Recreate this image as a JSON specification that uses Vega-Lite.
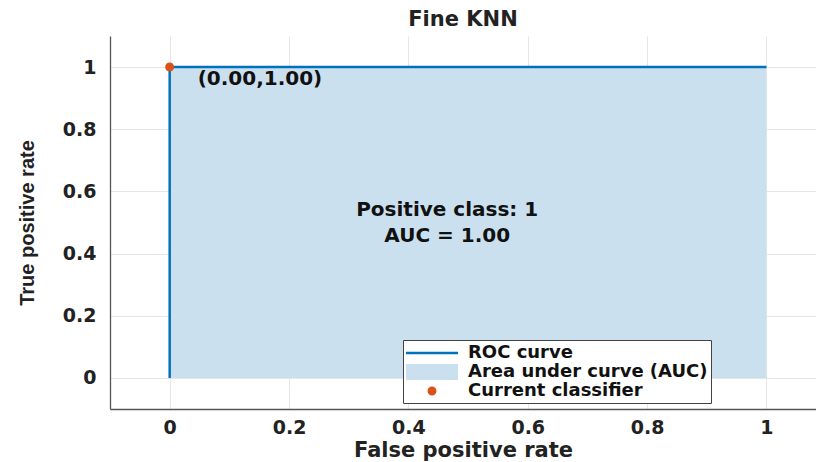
{
  "$schema": "https://vega.github.io/schema/vega-lite/v6.json",
  "autosize": {"type": "none"},
  "padding": {"left": 110, "top": 36, "right": 0, "bottom": 53},
  "width": 706,
  "height": 373,
  "background": "white",
  "title": {"text": "Fine KNN", "font": "DejaVu Sans", "fontSize": 21, "fontWeight": "bold", "color": "#222222", "anchor": "middle", "frame": "group", "offset": 6},
  "config": {"view": {"stroke": null}},
  "datasets": {
    "roc": [
      {"fpr": 0, "tpr": 0, "order": 1},
      {"fpr": 0, "tpr": 1, "order": 2},
      {"fpr": 1, "tpr": 1, "order": 3}
    ],
    "op": [
      {"fpr": 0, "tpr": 1, "series": "Current classifier", "label": "(0.00,1.00)"}
    ],
    "notes": [
      {"x": 0.465, "y": 0.54, "text": "Positive class: 1"},
      {"x": 0.465, "y": 0.455, "text": "AUC = 1.00"}
    ]
  },
  "layer": [
    {
      "data": {"name": "roc"},
      "mark": {"type": "area", "color": "#cbe0ef", "opacity": 1},
      "encoding": {
        "x": {"field": "fpr", "type": "quantitative",
          "scale": {"domain": [-0.1, 1.083], "nice": false, "zero": false},
          "axis": {"title": "False positive rate", "values": [0, 0.2, 0.4, 0.6, 0.8, 1], "format": "~g",
            "grid": true, "gridColor": "#e6e6e6", "ticks": false, "domainColor": "#555555", "domainWidth": 1.3,
            "labelFont": "DejaVu Sans", "labelFontWeight": "bold", "labelFontSize": 19, "labelColor": "#222222", "labelPadding": 9,
            "titleFont": "DejaVu Sans", "titleFontWeight": "bold", "titleFontSize": 21, "titleColor": "#222222", "titlePadding": 2, "labelFlush": false}},
        "y": {"field": "tpr", "type": "quantitative", "stack": null,
          "scale": {"domain": [-0.1, 1.1], "nice": false, "zero": false},
          "axis": {"title": "True positive rate", "values": [0, 0.2, 0.4, 0.6, 0.8, 1], "format": "~g",
            "grid": true, "gridColor": "#e6e6e6", "ticks": false, "domainColor": "#555555", "domainWidth": 1.3,
            "labelFont": "DejaVu Sans", "labelFontWeight": "bold", "labelFontSize": 19, "labelColor": "#222222", "labelPadding": 14,
            "titleFont": "Liberation Sans", "titleFontWeight": "bold", "titleFontSize": 20, "titleColor": "#222222", "titlePadding": 25, "labelFlush": false}}
      }
    },
    {
      "data": {"name": "roc"},
      "mark": {"type": "line", "color": "#0072bd", "strokeWidth": 2.5},
      "encoding": {
        "x": {"field": "fpr", "type": "quantitative"},
        "y": {"field": "tpr", "type": "quantitative"},
        "order": {"field": "order", "type": "quantitative"}
      }
    },
    {
      "data": {"name": "op"},
      "mark": {"type": "point", "filled": true, "opacity": 1, "size": 400, "strokeWidth": 0},
      "encoding": {
        "x": {"field": "fpr", "type": "quantitative"},
        "y": {"field": "tpr", "type": "quantitative"},
        "color": {"field": "series", "type": "nominal",
          "scale": {"domain": ["ROC curve", "Area under curve (AUC)", "Current classifier"], "range": ["#0072bd", "#cbe0ef", "#d95319"]},
          "legend": {"orient": "none", "legendX": 293, "legendY": 304, "title": null,
            "labelFont": "DejaVu Sans", "labelFontWeight": "bold", "labelFontSize": 18, "labelColor": "#111111", "labelLimit": 500,
            "strokeColor": "#444444", "fillColor": "white", "padding": 3, "symbolSize": 400,
            "symbolOffset": 16, "labelOffset": 26, "rowPadding": 0, "symbolStrokeWidth": 0, "symbolOpacity": 1}},
        "shape": {"field": "series", "type": "nominal",
          "scale": {"domain": ["ROC curve", "Area under curve (AUC)", "Current classifier"],
            "range": ["M-2.6,-0.12H2.6V0.12H-2.6Z", "M-2.6,-0.8H2.6V0.8H-2.6Z", "M-0.45,0A0.45,0.45,0,1,0,0.45,0A0.45,0.45,0,1,0,-0.45,0Z"]},
          "legend": {"orient": "none", "legendX": 293, "legendY": 304, "title": null,
            "labelFont": "DejaVu Sans", "labelFontWeight": "bold", "labelFontSize": 18, "labelColor": "#111111", "labelLimit": 500,
            "strokeColor": "#444444", "fillColor": "white", "padding": 3, "symbolSize": 400,
            "symbolOffset": 16, "labelOffset": 26, "rowPadding": 0, "symbolStrokeWidth": 0, "symbolOpacity": 1}}
      }
    },
    {
      "data": {"name": "op"},
      "mark": {"type": "text", "align": "left", "baseline": "middle", "dx": 28, "dy": 12, "font": "DejaVu Sans", "fontWeight": "bold", "fontSize": 20, "color": "#111111"},
      "encoding": {
        "x": {"field": "fpr", "type": "quantitative"},
        "y": {"field": "tpr", "type": "quantitative"},
        "text": {"field": "label"}
      }
    },
    {
      "data": {"name": "notes"},
      "mark": {"type": "text", "align": "center", "baseline": "middle", "font": "DejaVu Sans", "fontWeight": "bold", "fontSize": 20, "color": "#111111"},
      "encoding": {
        "x": {"field": "x", "type": "quantitative"},
        "y": {"field": "y", "type": "quantitative"},
        "text": {"field": "text"}
      }
    }
  ]
}
